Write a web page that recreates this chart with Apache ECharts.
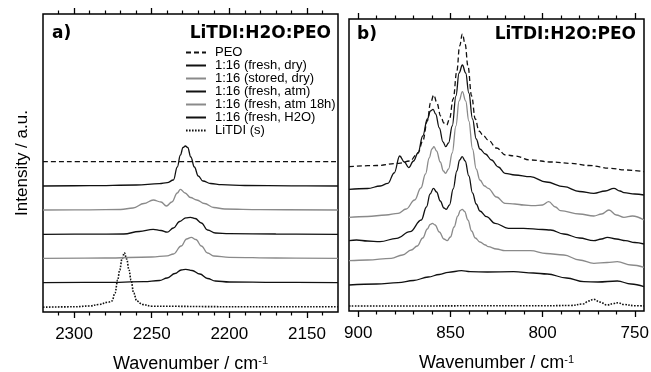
<!DOCTYPE html>
<html>
<head>
<meta charset="utf-8">
<script src="https://cdn.jsdelivr.net/npm/echarts@6/dist/echarts.min.js"></script>
<style>
html,body{margin:0;padding:0;background:#fff;overflow:hidden;}
#c{width:651px;height:372px;}
</style>
</head>
<body>
<div id="c"></div>
<script>
// ---------- DATA ----------
const seriesNames = ['PEO','1:16 (fresh, dry)','1:16 (stored, dry)','1:16 (fresh, atm)','1:16 (fresh, atm 18h)','1:16 (fresh, H2O)','LiTDI (s)'];

// Panel a) (C≡N region), [wavenumber, offset intensity]
const aPEO = [[2320,150.3],[2250,150.3],[2180,150.3],[2130,150.3]];
const aFreshDry = [[2320,126],[2290,126.3],[2260,127],[2245,128.3],[2240,129.3],[2236,132],[2233.5,145],[2231.5,157],[2229.8,164.5],[2228.3,166],[2226.8,164.5],[2224.8,155],[2222.5,145],[2220,136],[2217,131],[2212,128.5],[2205,127.3],[2190,126.5],[2160,126.2],[2130,126]];
const aStoredDry = [[2320,102],[2290,102.2],[2270,102.5],[2262,104],[2255,108.5],[2249,112],[2244,110],[2240.5,106],[2237,110],[2233.5,119],[2231.5,122.7],[2228.5,119],[2225,114.5],[2221,112],[2216,108.5],[2210,104.5],[2203,103],[2180,102.3],[2130,102]];
const aFreshAtm = [[2320,77.7],[2290,77.8],[2268,78],[2258,80.5],[2249,82.7],[2244,81.5],[2240,79.8],[2236,84],[2232,90.5],[2228,94.2],[2225,94.7],[2222,93.5],[2218,89],[2214,82],[2209,79],[2200,78.3],[2170,78],[2130,77.7]];
const aFreshAtm18 = [[2320,53.7],[2280,54],[2250,55],[2240,56.2],[2236,58],[2231,66],[2227.5,73],[2224.5,74.7],[2221.5,72.5],[2218,66],[2214,59],[2210,56],[2200,54.6],[2170,54],[2130,53.7]];
const aFreshH2O = [[2320,29.3],[2280,29.6],[2255,30.3],[2245,31.5],[2240,34],[2235,38.5],[2231,42],[2228,42.7],[2224,41.5],[2219,38],[2214,33.5],[2209,31],[2200,30],[2170,29.6],[2130,29.3]];
const aLiTDI = [[2320,4.8],[2300,5.2],[2290,6],[2284,7.5],[2278,9.8],[2275.6,11],[2273.6,19],[2271.9,32],[2270.6,42],[2269.1,53],[2267.6,59.3],[2266.1,53],[2264.6,42],[2263.3,32],[2261.6,19],[2259.6,11],[2256,7.5],[2250,5.8],[2200,5.3],[2130,5.3]];

// Panel b)
const bPEO = [[905,144.3],[890,145.5],[878,147.7],[872,150],[867.6,158],[865,170],[862.5,190],[860.8,208],[859,216],[857.3,208],[855.3,195],[853.5,188],[852,186],[850.5,192],[848.5,212],[846.5,240],[845,265],[843.5,277],[842,267],[840.5,245],[838.5,215],[836.5,192],[834.5,180],[832,175],[829.5,171],[825,163],[820,156],[815,155],[806.6,151],[795,149],[785,147.7],[775,145.5],[763,142.7],[755,141],[745,139.3]];
const bFreshDry = [[905,121.7],[895,122.5],[888,125],[883.9,127.7],[880.5,138],[877.5,155],[875,149],[872.6,143.3],[870,150],[867.6,158],[865,175],[862.5,192],[860.8,200],[859.4,201.7],[858,197],[856,183],[854,169],[852.5,164.3],[851,168],[849,185],[847,215],[845.3,238],[843.5,246],[841.7,238],[840,218],[838,192],[836,172],[834,162],[831,157],[827.7,151],[824,144],[820.4,137.7],[815,136],[806.6,134.3],[798,129],[788.5,124.3],[780,119.5],[772.2,117.7],[766,120],[761.3,122.7],[758,120],[755.9,118.3],[750,117],[745,116]];
const bStoredDry = [[905,93.7],[895,94.5],[885,96],[878.4,97.7],[874,102],[869.4,111],[866,123],[863.5,137],[861.5,153],[860,162],[858.9,164.3],[857.5,160],[855.5,149],[853.8,140],[852.7,137.7],[851,142],[849,158],[847,185],[845.3,210],[843.5,219.3],[841.7,210],[840,190],[838,162],[836,142],[834,131],[831.5,125],[829.5,122.7],[825,114],[820.4,107.7],[815,107],[810.3,106],[805,105.3],[800,106],[796.7,109.3],[793,104],[790.3,100.3],[780,97],[772.2,95],[768,97],[764,101],[760,96],[755.9,93.7],[751.3,95],[745,91]];
const bFreshAtm = [[905,70.3],[900.9,71],[895,70],[888.2,69.3],[879.2,72.7],[871.9,79.3],[865.8,91],[863,104],[861,117],[859.2,122.7],[857.5,119],[855.5,110],[853.5,103],[852.3,101.7],[850.5,106],[848.5,122],[846.5,140],[845,151],[843.6,154.3],[842,150],[840,135],[838,118],[836,107],[834,100],[830.4,94.3],[825.8,87.7],[818.6,82.7],[810.3,82.7],[800,81.5],[795.7,81],[788.5,77],[780,73],[772.2,70.3],[768,72],[764.9,73.7],[760,72],[755,70.3],[750,68.5],[745,67]];
const bFreshAtm18 = [[905,50.3],[895,51],[882.1,52.7],[876,56],[871.2,61],[868,65],[865,73],[862.5,82],[861,86.5],[859.8,87.7],[858.3,86],[856,79],[853.5,72],[851.8,70.3],[850,74],[848,84],[846,95],[844.6,100.5],[843.6,101.7],[842.3,99.5],[840.5,91],[838.5,80],[836.5,73],[834,69],[831,66],[829.5,64.3],[825,62],[820.4,60.3],[806.6,60.3],[798,57.5],[788.5,56],[780,51],[772.2,47.7],[765,48.5],[759.5,49.3],[752,46],[745,43.7]];
const bFreshH2O = [[905,26],[890,27],[878.4,28.3],[870,30.5],[862,34],[856,36.5],[851.2,38.7],[844,40.3],[839.3,39.3],[830,39],[815.7,39.3],[805,38],[797.5,37],[787,33],[777.6,29.3],[770,29],[759.5,30],[752,27],[745,24.3]];
const bLiTDI = [[905,5],[870,5],[840,5.2],[800,5.2],[785,5.5],[778,7],[775,10],[772.2,11.7],[769,9],[765,6],[761.5,7.5],[759,8.3],[756,6.5],[750,5.3],[745,5]];

// Axis ticks / ranges
const aRange = [2130, 2320];
const bRange = [745, 905];
const aMajor = [2150, 2200, 2250, 2300];
const aMinor = [2140,2160,2170,2180,2190,2210,2220,2230,2240,2260,2270,2280,2290,2310];
const bMajor = [750, 800, 850, 900];
const bMinor = [760,770,780,790,810,820,830,840,860,870,880,890];

// ---------- CHART ----------
const FONT = 'Liberation Sans, Arial, sans-serif';
const BOLD = 'DejaVu Sans, sans-serif';
const BLACK = '#111', GRAY = '#8a8a8a';
const styles = [
  {color: BLACK, width: 1.3, type: [5, 3]},
  {color: BLACK, width: 1.3, type: 'solid'},
  {color: GRAY, width: 1.3, type: 'solid'},
  {color: BLACK, width: 1.3, type: 'solid'},
  {color: GRAY, width: 1.3, type: 'solid'},
  {color: BLACK, width: 1.3, type: 'solid'},
  {color: BLACK, width: 1.6, type: [1.6, 1.4]}
];
const aData = [aPEO, aFreshDry, aStoredDry, aFreshAtm, aFreshAtm18, aFreshH2O, aLiTDI];
const bData = [bPEO, bFreshDry, bStoredDry, bFreshAtm, bFreshAtm18, bFreshH2O, bLiTDI];

function xAxes(gridIndex, range, major, minor, withName) {
  const base = {type: 'value', gridIndex, min: range[0], max: range[1], inverse: true,
    splitLine: {show: false}, axisLine: {show: false}};
  const nameObj = withName ? {
    name: '{n|Wavenumber / cm}{s|-1}', nameLocation: 'middle', nameGap: 43,
    nameTextStyle: {rich: {
      n: {fontSize: 18, fontFamily: FONT, color: '#000'},
      s: {fontSize: 11, fontFamily: FONT, color: '#000', verticalAlign: 'top', padding: [0,0,8,0]}
    }}
  } : {};
  return [
    Object.assign({}, base, nameObj, {position: 'bottom',
      axisTick: {show: true, length: 6, customValues: major, lineStyle: {color: '#000', width: 1.3}},
      axisLabel: {show: true, customValues: major, fontSize: 17, fontFamily: FONT, color: '#000', margin: 14,
        formatter: v => String(v)}}),
    Object.assign({}, base, {position: 'bottom',
      axisTick: {show: true, length: 3.5, customValues: minor, lineStyle: {color: '#000', width: 1.2}},
      axisLabel: {show: false}}),
    Object.assign({}, base, {position: 'top',
      axisTick: {show: true, length: 6, customValues: major, lineStyle: {color: '#000', width: 1.3}},
      axisLabel: {show: false}}),
    Object.assign({}, base, {position: 'top',
      axisTick: {show: true, length: 3.5, customValues: minor, lineStyle: {color: '#000', width: 1.2}},
      axisLabel: {show: false}})
  ];
}

const series = [];
function addSeries(dataList, xIdx, yIdx) {
  dataList.forEach((d, i) => {
    series.push({
      type: 'line', name: seriesNames[i], xAxisIndex: xIdx, yAxisIndex: yIdx,
      data: d, symbol: 'none', smooth: 0.4, smoothMonotone: 'x',
      lineStyle: styles[i], itemStyle: {color: styles[i].color},
      silent: true, animation: false, z: 10 - i
    });
  });
}
addSeries(aData, 0, 0);
addSeries(bData, 4, 1);

const option = {
  backgroundColor: '#fff',
  animation: false,
  grid: [
    {left: 43, right: 313, top: 14, bottom: 60, show: true, borderColor: '#000', borderWidth: 1.5, backgroundColor: 'transparent', outerBoundsMode: 'none', containLabel: false},
    {left: 349, right: 7, top: 19, bottom: 61, show: true, borderColor: '#000', borderWidth: 1.5, backgroundColor: 'transparent', outerBoundsMode: 'none', containLabel: false}
  ],
  xAxis: [].concat(xAxes(0, aRange, aMajor, aMinor, true), xAxes(1, bRange, bMajor, bMinor, true)),
  yAxis: [
    {type: 'value', gridIndex: 0, min: 0, max: 298, axisLine: {show: false}, axisTick: {show: false},
     axisLabel: {show: false}, splitLine: {show: false},
     name: 'Intensity / a.u.', nameLocation: 'middle', nameGap: 12,
     nameTextStyle: {fontSize: 17, fontFamily: FONT, color: '#000'}},
    {type: 'value', gridIndex: 1, min: 0, max: 292, axisLine: {show: false}, axisTick: {show: false},
     axisLabel: {show: false}, splitLine: {show: false}}
  ],
  legend: {
    data: seriesNames, orient: 'vertical', left: 185, top: 46,
    itemWidth: 20, itemHeight: 14, itemGap: 0, padding: 0,
    selectedMode: false,
    itemStyle: {opacity: 0, borderWidth: 0},
    textStyle: {fontSize: 13, fontFamily: FONT, color: '#000', padding: [0,0,0,4]}
  },
  graphic: [
    {type: 'text', x: 52, y: 34, style: {text: 'a)', font: 'bold 17px ' + BOLD, fill: '#000', textAlign: 'left', textVerticalAlign: 'middle'}},
    {type: 'text', x: 331, y: 34, style: {text: 'LiTDI:H2O:PEO', font: 'bold 17px ' + BOLD, fill: '#000', textAlign: 'right', textVerticalAlign: 'middle'}},
    {type: 'text', x: 357, y: 35, style: {text: 'b)', font: 'bold 17px ' + BOLD, fill: '#000', textAlign: 'left', textVerticalAlign: 'middle'}},
    {type: 'text', x: 636, y: 35, style: {text: 'LiTDI:H2O:PEO', font: 'bold 17px ' + BOLD, fill: '#000', textAlign: 'right', textVerticalAlign: 'middle'}}
  ],
  series: series
};

const chart = echarts.init(document.getElementById('c'), null, {renderer: 'canvas'});
chart.setOption(option);
</script>
</body>
</html>
